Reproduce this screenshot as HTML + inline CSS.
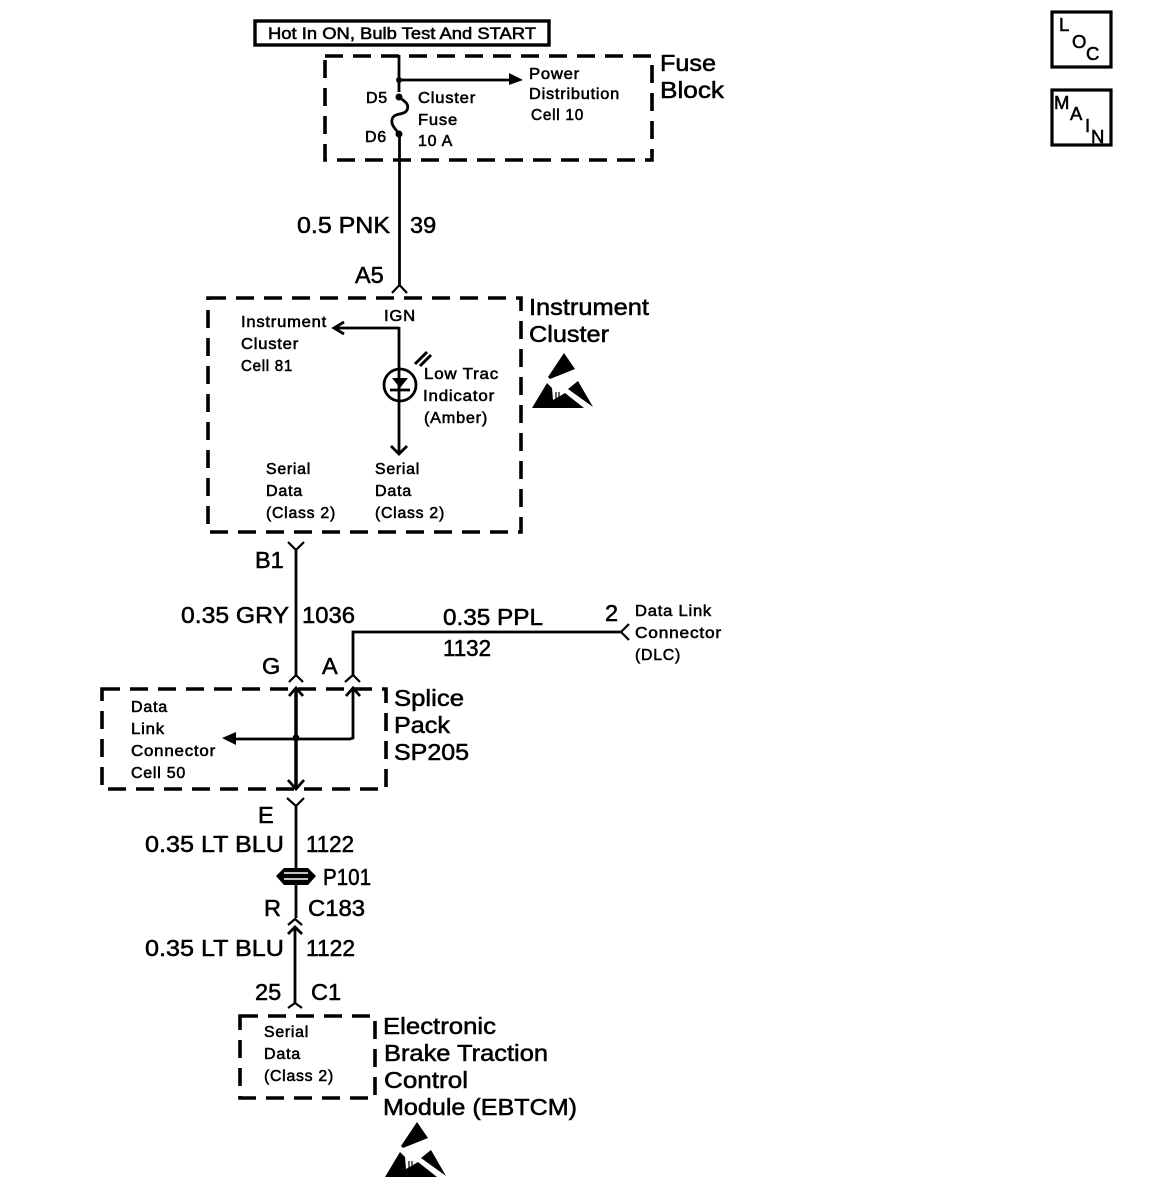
<!DOCTYPE html>
<html>
<head>
<meta charset="utf-8">
<style>
html,body{margin:0;padding:0;background:#fff;}
svg{display:block;}
text{font-family:"Liberation Sans",sans-serif;fill:#000;stroke:#000;stroke-width:.55px;}
.l{font-size:23.5px;}
.m{font-size:17px;}
.s{font-size:16px;letter-spacing:.75px;}
.b{font-size:18.5px;}
.w{fill:none;stroke:#000;stroke-width:2.8;}
.d{fill:none;stroke:#000;stroke-width:3.6;stroke-dasharray:18 10;}
.c{fill:none;stroke:#000;stroke-width:2.2;}
.f{fill:#000;stroke:none;}
</style>
</head>
<body>
<svg width="1152" height="1186" viewBox="0 0 1152 1186" xmlns="http://www.w3.org/2000/svg">
<rect width="1152" height="1186" fill="#fff"/>

<!-- Top box -->
<rect x="255" y="21" width="294" height="24" fill="none" stroke="#000" stroke-width="3.4"/>
<text class="m" x="268" y="39" textLength="268" lengthAdjust="spacingAndGlyphs">Hot In ON, Bulb Test And START</text>

<!-- Fuse block -->
<rect class="d" x="325" y="56" width="327" height="104"/>
<text class="l" x="660" y="71" textLength="56" lengthAdjust="spacingAndGlyphs">Fuse</text>
<text class="l" x="660" y="98" textLength="64" lengthAdjust="spacingAndGlyphs">Block</text>
<path class="w" d="M399 55V92"/>
<path class="w" d="M399 80H515"/>
<path class="f" d="M509 73L523 80L509 85Z"/>
<circle class="f" cx="399" cy="80" r="3"/>
<circle class="f" cx="399" cy="97" r="3.5"/>
<circle class="f" cx="399" cy="134" r="3.5"/>
<path class="w" d="M399 97C404 101 410 104 407 110C404 116 393 112 392 120C391 126 396 129 399 134"/>
<text class="s" x="366" y="103">D5</text>
<text class="s" x="365" y="142">D6</text>
<text class="s" x="418" y="103" textLength="58" lengthAdjust="spacingAndGlyphs">Cluster</text>
<text class="s" x="418" y="125" textLength="40" lengthAdjust="spacingAndGlyphs">Fuse</text>
<text class="s" x="418" y="146" textLength="35" lengthAdjust="spacingAndGlyphs">10 A</text>
<text class="s" x="529" y="79" textLength="51" lengthAdjust="spacingAndGlyphs">Power</text>
<text class="s" x="529" y="99" textLength="91" lengthAdjust="spacingAndGlyphs">Distribution</text>
<text class="s" x="531" y="120" textLength="53" lengthAdjust="spacingAndGlyphs">Cell 10</text>

<path class="w" d="M399.500 134V287"/>
<text class="l" x="297" y="233" textLength="93" lengthAdjust="spacingAndGlyphs">0.5 PNK</text>
<text class="l" x="410" y="233">39</text>
<text class="l" x="355" y="283">A5</text>
<path class="c" d="M392 293L399.500 285L407 293"/>

<!-- Instrument cluster -->
<rect class="d" x="208" y="298" width="313" height="234"/>
<text class="l" x="529" y="315" textLength="120" lengthAdjust="spacingAndGlyphs">Instrument</text>
<text class="l" x="529" y="342" textLength="80" lengthAdjust="spacingAndGlyphs">Cluster</text>
<text class="s" x="384" y="321" textLength="32" lengthAdjust="spacingAndGlyphs">IGN</text>
<path class="w" d="M399 328H335M344 322L334 328L344 334"/>
<path class="w" d="M399 327V452M391 446L399 454L407 446"/>
<text class="s" x="241" y="327" textLength="86" lengthAdjust="spacingAndGlyphs">Instrument</text>
<text class="s" x="241" y="349" textLength="58" lengthAdjust="spacingAndGlyphs">Cluster</text>
<text class="s" x="241" y="371" textLength="52" lengthAdjust="spacingAndGlyphs">Cell 81</text>
<circle cx="400" cy="385" r="16" fill="none" stroke="#000" stroke-width="2.800"/>
<path class="f" d="M392 378H408L400 388Z"/>
<path class="w" d="M390 390H410"/>
<path fill="none" stroke="#000" stroke-width="3" d="M415 364L427 352M420 366L431 355"/>
<text class="s" x="424" y="379" textLength="75" lengthAdjust="spacingAndGlyphs">Low Trac</text>
<text class="s" x="423" y="401" textLength="72" lengthAdjust="spacingAndGlyphs">Indicator</text>
<text class="s" x="424" y="423" textLength="64" lengthAdjust="spacingAndGlyphs">(Amber)</text>
<text class="s" x="266" y="474" textLength="45" lengthAdjust="spacingAndGlyphs">Serial</text>
<text class="s" x="266" y="496" textLength="37" lengthAdjust="spacingAndGlyphs">Data</text>
<text class="s" x="266" y="518" textLength="70" lengthAdjust="spacingAndGlyphs">(Class 2)</text>
<text class="s" x="375" y="474" textLength="45" lengthAdjust="spacingAndGlyphs">Serial</text>
<text class="s" x="375" y="496" textLength="37" lengthAdjust="spacingAndGlyphs">Data</text>
<text class="s" x="375" y="518" textLength="70" lengthAdjust="spacingAndGlyphs">(Class 2)</text>

<!-- ESD symbol -->
<g>
<path class="f" d="M564 353L575 369L550 379L548 377Z"/>
<path class="f" d="M547 383L552 388L553 400L560 396L565 393L584 408H532Z"/>
<path class="f" d="M578 381L593 407L568 389Z"/>
<path fill="none" stroke="#000" stroke-width="1.200" d="M556 392V402M559 392V402"/>
</g>

<!-- Below cluster -->
<path class="c" d="M288 542L296 550L304 542"/>
<path class="w" d="M296 549V676"/>
<text class="l" x="255" y="568">B1</text>
<text class="l" x="181" y="623" textLength="108" lengthAdjust="spacingAndGlyphs">0.35 GRY</text>
<text class="l" x="302" y="623" textLength="53" lengthAdjust="spacingAndGlyphs">1036</text>
<text class="l" x="262" y="674">G</text>
<text class="l" x="322" y="674">A</text>
<path class="c" d="M289 682L296 675L303 682M345 682L353 675L360 682"/>
<path class="w" d="M353 676V632H621"/>
<text class="l" x="443" y="625" textLength="100" lengthAdjust="spacingAndGlyphs">0.35 PPL</text>
<text class="l" x="443" y="656" textLength="48" lengthAdjust="spacingAndGlyphs">1132</text>
<text class="l" x="605" y="621">2</text>
<path class="c" d="M629 624L621 632L629 640"/>
<text class="s" x="635" y="616" textLength="77" lengthAdjust="spacingAndGlyphs">Data Link</text>
<text class="s" x="635" y="638" textLength="87" lengthAdjust="spacingAndGlyphs">Connector</text>
<text class="s" x="635" y="660" textLength="46" lengthAdjust="spacingAndGlyphs">(DLC)</text>

<!-- Splice pack -->
<rect class="d" x="102" y="689" width="284" height="100"/>
<text class="l" x="394" y="706" textLength="70" lengthAdjust="spacingAndGlyphs">Splice</text>
<text class="l" x="394" y="733" textLength="56" lengthAdjust="spacingAndGlyphs">Pack</text>
<text class="l" x="394" y="760" textLength="75" lengthAdjust="spacingAndGlyphs">SP205</text>
<text class="s" x="131" y="712" textLength="37" lengthAdjust="spacingAndGlyphs">Data</text>
<text class="s" x="131" y="734" textLength="34" lengthAdjust="spacingAndGlyphs">Link</text>
<text class="s" x="131" y="756" textLength="85" lengthAdjust="spacingAndGlyphs">Connector</text>
<text class="s" x="131" y="778" textLength="55" lengthAdjust="spacingAndGlyphs">Cell 50</text>
<path fill="none" stroke="#000" stroke-width="3.500" d="M296 688V787"/>
<path class="w" d="M289 696L296 688L303 696M346 696L353 688L360 696M288 780L296 789L304 780"/>
<path class="w" d="M353 688V738L350 739H232"/>
<path class="f" d="M222 738L236 732V745Z"/>
<circle class="f" cx="296" cy="738" r="3.500"/>

<!-- Lower wire -->
<path class="c" d="M287 798L296 806L304 798"/>
<path class="w" d="M296 805V918"/>
<text class="l" x="258" y="823">E</text>
<text class="l" x="145" y="852" textLength="139" lengthAdjust="spacingAndGlyphs">0.35 LT BLU</text>
<text class="l" x="306" y="852" textLength="48" lengthAdjust="spacingAndGlyphs">1122</text>
<path class="f" d="M276 876L284 868H308L316 876L308 885H284Z"/>
<path fill="none" stroke="#fff" stroke-width="1.600" d="M284 873H308M284 879H308"/>
<text class="l" x="323" y="885" textLength="48" lengthAdjust="spacingAndGlyphs">P101</text>
<text class="l" x="264" y="916">R</text>
<text class="l" x="308" y="916" textLength="57" lengthAdjust="spacingAndGlyphs">C183</text>
<path class="c" d="M288 925L295 919L302 925"/>
<path class="w" d="M295 927V1004M288 934L295 927L302 934"/>
<text class="l" x="145" y="956" textLength="139" lengthAdjust="spacingAndGlyphs">0.35 LT BLU</text>
<text class="l" x="306" y="956" textLength="49" lengthAdjust="spacingAndGlyphs">1122</text>
<text class="l" x="255" y="1000">25</text>
<text class="l" x="311" y="1000">C1</text>
<path class="c" d="M288 1008L295 1003L302 1008"/>

<!-- EBTCM -->
<rect class="d" x="240" y="1016" width="135" height="82"/>
<text class="s" x="264" y="1037" textLength="45" lengthAdjust="spacingAndGlyphs">Serial</text>
<text class="s" x="264" y="1059" textLength="37" lengthAdjust="spacingAndGlyphs">Data</text>
<text class="s" x="264" y="1081" textLength="70" lengthAdjust="spacingAndGlyphs">(Class 2)</text>
<text class="l" x="383" y="1034" textLength="113" lengthAdjust="spacingAndGlyphs">Electronic</text>
<text class="l" x="384" y="1061" textLength="164" lengthAdjust="spacingAndGlyphs">Brake Traction</text>
<text class="l" x="384" y="1088" textLength="84" lengthAdjust="spacingAndGlyphs">Control</text>
<text class="l" x="383" y="1115" textLength="194" lengthAdjust="spacingAndGlyphs">Module (EBTCM)</text>
<g transform="translate(-147 769)">
<path class="f" d="M564 353L575 369L550 379L548 377Z"/>
<path class="f" d="M547 383L552 388L553 400L560 396L565 393L584 408H532Z"/>
<path class="f" d="M578 381L593 407L568 389Z"/>
<path fill="none" stroke="#000" stroke-width="1.200" d="M556 392V402M559 392V402"/>
</g>

<!-- LOC / MAIN -->
<rect x="1052" y="12" width="59" height="55" fill="none" stroke="#000" stroke-width="3.200"/>
<text class="b" x="1059" y="31">L</text>
<text class="b" x="1072" y="48">O</text>
<text class="b" x="1086" y="60">C</text>
<rect x="1052" y="90" width="59" height="55" fill="none" stroke="#000" stroke-width="3.200"/>
<text class="b" x="1054" y="109">M</text>
<text class="b" x="1070" y="120">A</text>
<text class="b" x="1085" y="132">I</text>
<text class="b" x="1091" y="143">N</text>
</svg>
</body>
</html>
